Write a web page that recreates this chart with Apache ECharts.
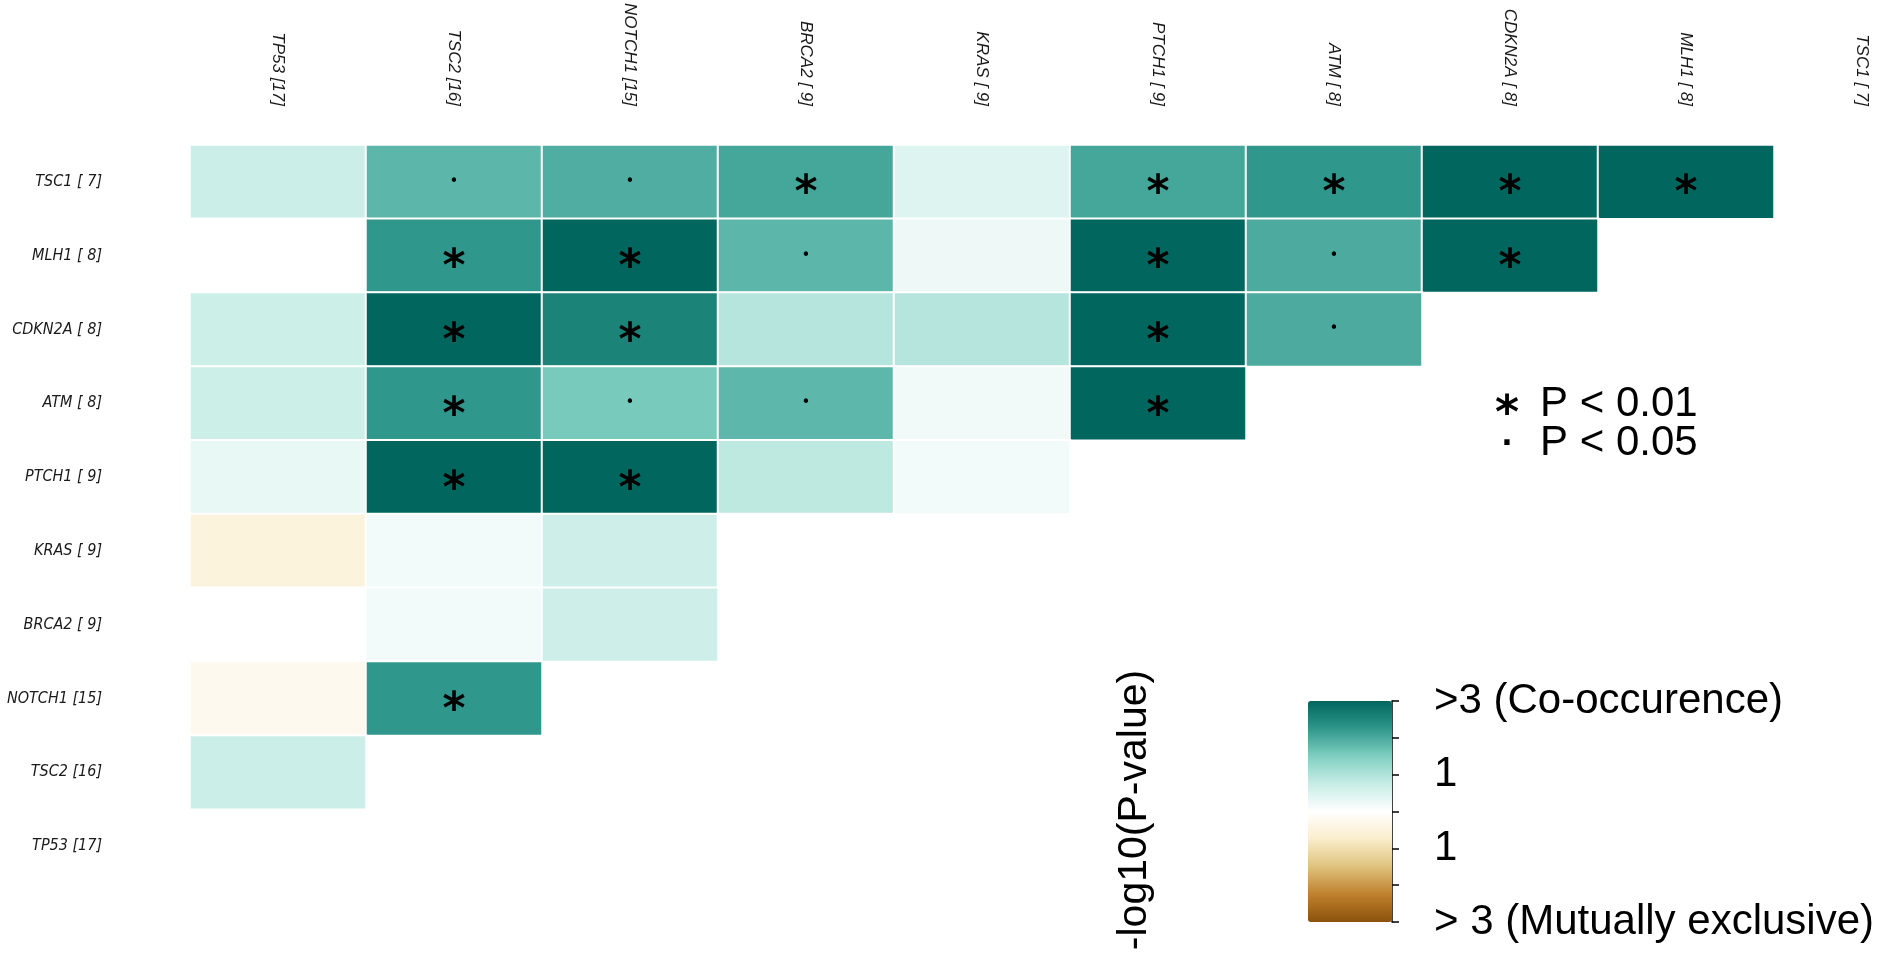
<!DOCTYPE html>
<html>
<head>
<meta charset="utf-8">
<script src="https://cdn.jsdelivr.net/npm/echarts@6/dist/echarts.min.js"></script>
<style>
	html, body { margin: 0; padding: 0; background: #fff; }
	#main { width: 1890px; height: 957px; }
</style>
</head>
<body>
<div id="main"></div>
<script type="text/javascript">
	// genes on the top axis (left to right) and on the side axis (top to bottom)
	var xGenes = ['TP53 [17]', 'TSC2 [16]', 'NOTCH1 [15]', 'BRCA2 [ 9]', 'KRAS [ 9]', 'PTCH1 [ 9]', 'ATM [ 8]', 'CDKN2A [ 8]', 'MLH1 [ 8]', 'TSC1 [ 7]'];
	var yGenes = ['TSC1 [ 7]', 'MLH1 [ 8]', 'CDKN2A [ 8]', 'ATM [ 8]', 'PTCH1 [ 9]', 'KRAS [ 9]', 'BRCA2 [ 9]', 'NOTCH1 [15]', 'TSC2 [16]', 'TP53 [17]'];

	// signed -log10(P): + co-occurence, - mutually exclusive (one row per side gene)
	var rowTSC1   = [0.70, 1.83, 1.95, 2.04, 0.45, 2.04, 2.25, 3.00, 3.00];
	var rowMLH1   = [0.00, 2.25, 3.00, 1.83, 0.23, 3.00, 1.98, 3.00];
	var rowCDKN2A = [0.68, 3.00, 2.56, 0.94, 0.94, 3.00, 1.98];
	var rowATM    = [0.68, 2.25, 1.57, 1.82, 0.19, 3.00];
	var rowPTCH1  = [0.31, 3.00, 3.00, 0.85, 0.16];
	var rowKRAS   = [-0.50, 0.16, 0.66, 0.00];
	var rowBRCA2  = [0.00, 0.16, 0.66];
	var rowNOTCH1 = [-0.25, 2.25];
	var rowTSC2   = [0.70];
	var rowTP53   = [];
	var values = [rowTSC1, rowMLH1, rowCDKN2A, rowATM, rowPTCH1, rowKRAS, rowBRCA2, rowNOTCH1, rowTSC2, rowTP53];

	// significance marks: '*' P < 0.01, '.' P < 0.05
	var marksTSC1   = ['', '.', '.', '*', '', '*', '*', '*', '*'];
	var marksMLH1   = ['', '*', '*', '.', '', '*', '.', '*'];
	var marksCDKN2A = ['', '*', '*', '', '', '*', '.'];
	var marksATM    = ['', '*', '.', '.', '', '*'];
	var marksPTCH1  = ['', '*', '*', '', ''];
	var marksKRAS   = ['', '', '', ''];
	var marksBRCA2  = ['', '', ''];
	var marksNOTCH1 = ['', '*'];
	var marksTSC2   = [''];
	var marks = [marksTSC1, marksMLH1, marksCDKN2A, marksATM, marksPTCH1, marksKRAS, marksBRCA2, marksNOTCH1, marksTSC2, []];

	// colour bar scale
	var scaleColors = ['#8c510a', '#bf812d', '#dfc27d', '#fbedcb', '#ffffff', '#c7ede6', '#7fcfc1', '#2f978b', '#01665e'];
	var scaleTicks = {'3': '>3 (Co-occurence)', '1': '1', '-1': '1', '-3': '> 3 (Mutually exclusive)'};

	var starLabel = {show: true, formatter: '*', fontSize: 44, fontWeight: 'bold', fontFamily: 'DejaVu Sans', color: '#000', offset: [0, 13]};
	var dotLabel = {show: true, formatter: '\u2022', fontSize: 15, fontFamily: 'DejaVu Sans', color: '#000'};

	var cells = [];
	for (var r = 0; r < values.length; r++) {
		for (var c = 0; c < values[r].length; c++) {
			var item = {value: [c, r, values[r][c]]};
			if (marks[r][c] == '*') item.label = starLabel;
			else if (marks[r][c] == '.') item.label = dotLabel;
			cells.push(item);
		}
	}

	var chart = echarts.init(document.getElementById('main'));
	chart.setOption({
		backgroundColor: '#fff',
		animation: false,
		grid: [
			{left: 190, top: 145, width: 1760, height: 738, outerBoundsMode: 'none'},
			{left: 1392, top: 701, width: 6, height: 221, outerBoundsMode: 'none'}
		],
		xAxis: [{
			type: 'category',
			data: xGenes,
			position: 'top',
			gridIndex: 0,
			axisLine: {show: false},
			axisTick: {show: false},
			splitLine: {show: false},
			axisLabel: {
				interval: 0, rotate: 90, margin: 39,
				fontSize: 17, fontStyle: 'italic', fontFamily: 'Liberation Sans', color: '#1a1a1a'
			}
		}, {
			type: 'value', gridIndex: 1, show: false
		}],
		yAxis: [{
			type: 'category',
			data: yGenes,
			inverse: true,
			gridIndex: 0,
			axisLine: {show: false},
			axisTick: {show: false},
			splitLine: {show: false},
			axisLabel: {
				interval: 0, margin: 88,
				fontSize: 16, fontStyle: 'italic', fontFamily: 'Liberation Sans Narrow, DejaVu Sans Condensed, Liberation Sans', color: '#1a1a1a'
			}
		}, {
			type: 'value',
			gridIndex: 1,
			min: -3, max: 3, interval: 1,
			position: 'right',
			axisLine: {show: true, lineStyle: {color: '#000', width: 1.5}},
			axisTick: {show: true, length: 7, lineStyle: {color: '#000', width: 1.5}},
			splitLine: {show: false},
			axisLabel: {
				margin: 36, fontSize: 42, fontFamily: 'Liberation Sans', color: '#000',
				formatter: function (v) { return scaleTicks[String(v)] || ''; }
			}
		}],
		visualMap: {
			type: 'continuous',
			min: -3, max: 3,
			seriesIndex: 0,
			calculable: false,
			hoverLink: false,
			left: 1308, top: 701,
			itemWidth: 84, itemHeight: 221,
			padding: 0,
			inRange: {color: scaleColors}
		},
		graphic: [
			{type: 'text', x: 1135, y: 810, rotation: Math.PI / 2,
				style: {text: '-log10(P-value)', font: '41px "Liberation Sans"', fill: '#000', textAlign: 'center', textVerticalAlign: 'middle'}},
			{type: 'text', x: 1507, y: 416,
				style: {text: '*', font: 'bold 46px "DejaVu Sans"', fill: '#000', textAlign: 'center', textVerticalAlign: 'middle'}},
			{type: 'text', x: 1540, y: 404,
				style: {text: 'P < 0.01', font: '42px "Liberation Sans"', fill: '#000', textAlign: 'left', textVerticalAlign: 'middle'}},
			{type: 'text', x: 1507, y: 445,
				style: {text: '\u00b7', font: 'bold 30px "DejaVu Sans"', fill: '#000', textAlign: 'center', textVerticalAlign: 'middle'}},
			{type: 'text', x: 1540, y: 443,
				style: {text: 'P < 0.05', font: '42px "Liberation Sans"', fill: '#000', textAlign: 'left', textVerticalAlign: 'middle'}}
		],
		series: [{
			type: 'heatmap',
			xAxisIndex: 0,
			yAxisIndex: 0,
			data: cells,
			itemStyle: {borderColor: '#fff', borderWidth: 2},
			emphasis: {disabled: true}
		}]
	});
</script>
</body>
</html>
